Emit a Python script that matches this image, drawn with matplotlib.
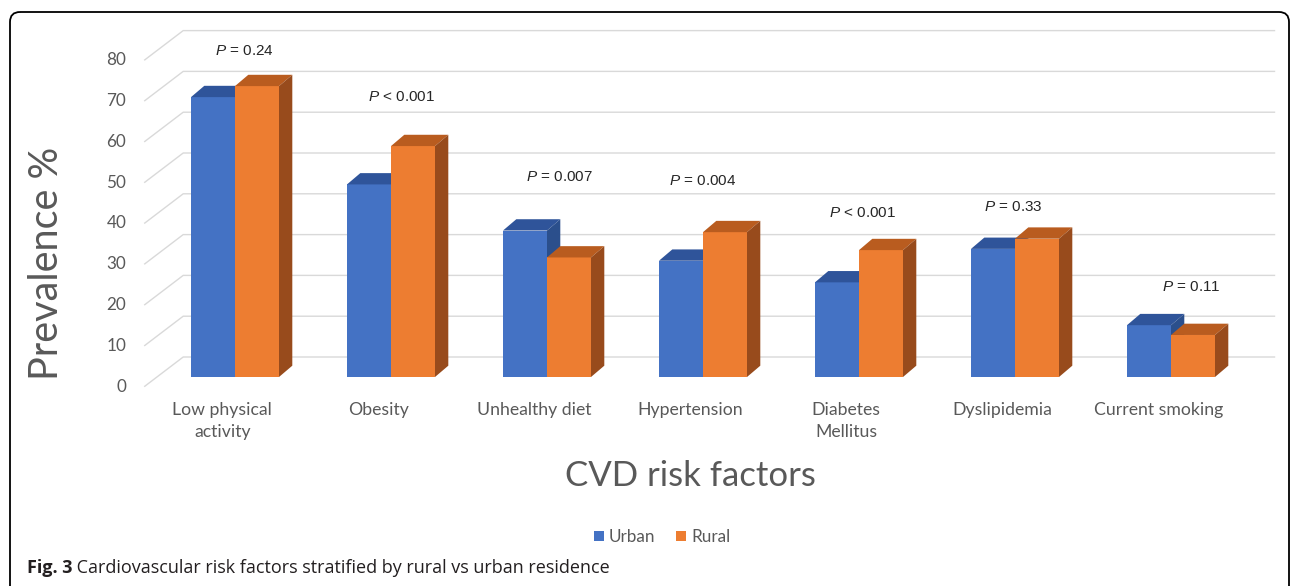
import matplotlib
matplotlib.use("Agg")
import matplotlib.pyplot as plt
from matplotlib.patches import Polygon, Patch, FancyBboxPatch

plt.rcParams["font.family"] = ["Lato", "DejaVu Sans"]
plt.rcParams["mathtext.fontset"] = "custom"
plt.rcParams["mathtext.rm"] = "Liberation Sans"
plt.rcParams["mathtext.it"] = "Liberation Sans:italic"

# data
categories = ["Low physical\nactivity", "Obesity", "Unhealthy diet", "Hypertension",
              "Diabetes\nMellitus", "Dyslipidemia", "Current smoking"]
urban = [68.6, 47.2, 35.9, 28.5, 23.2, 31.4, 12.7]
rural = [71.3, 56.6, 29.3, 35.5, 31.1, 33.9, 10.3]
p_values = ["$P$ = 0.24", "$P$ < 0.001", "$P$ = 0.007", "$P$ = 0.004",
            "$P$ < 0.001", "$P$ = 0.33", "$P$ = 0.11"]
yticks = [0, 10, 20, 30, 40, 50, 60, 70, 80]

# layout (p label positions: x offset from group centre, height in %)
p_dx = [0.06, 0.07, 0.08, 0.0, 0.02, -0.01, 0.13]
p_y = [80.0, 68.6, 49.0, 48.0, 40.3, 41.6, 22.0]

blue, blue_top, blue_side = "#4472C4", "#2F549A", "#2B4F8C"
orange, orange_top, orange_side = "#ED7D31", "#B95C1F", "#984B1C"
grey_txt = "#595959"

W, H = 1292, 586
PX_CAT, PX_PCT = 156.0, 4.08     # pixels per category / per percent
X0, Y0 = 157.0, 377.0            # pixel of x=-0.5 / y=0 (bar plane)
xlim = (-0.8, 6.75)
ylim = (-3, 88)

# oblique depth offsets (data units)
fdx, fdy = -12.8 / PX_CAT, -9.7 / PX_PCT      # front edge
bdx, bdy = 26.2 / PX_CAT, 20.0 / PX_PCT       # back wall
ddx, ddy = 13.3 / PX_CAT, 11.3 / PX_PCT       # bar depth

fig = plt.figure(figsize=(W / 100, H / 100), dpi=100)

# background overlay in pixel coords
bg = fig.add_axes([0, 0, 1, 1], zorder=0)
bg.set_xlim(0, W)
bg.set_ylim(H, 0)
bg.axis("off")
bg.add_patch(FancyBboxPatch((10, 12), 1279, 700, boxstyle="round,pad=0,rounding_size=10",
                            fc="none", ec="black", lw=1.3, clip_on=False))

left_px = X0 + (xlim[0] + 0.5) * PX_CAT
bottom_px = Y0 - ylim[0] * PX_PCT
ax = fig.add_axes([left_px / W, (H - bottom_px) / H,
                   (xlim[1] - xlim[0]) * PX_CAT / W, (ylim[1] - ylim[0]) * PX_PCT / H],
                  zorder=1)
ax.set_xlim(*xlim)
ax.set_ylim(*ylim)
ax.axis("off")
ax.patch.set_alpha(0)

n = len(categories)
# gridlines: side wall + back wall
for v in yticks:
    xs = [-0.5 + fdx, -0.5 + bdx, n - 0.5 + bdx]
    ys = [v + fdy, v + bdy, v + bdy]
    ax.plot(xs, ys, color="#D9D9D9", lw=1.0, zorder=1, solid_capstyle="butt")
    ax.text(-0.5 + fdx - 18 / PX_CAT, v + fdy, str(v), ha="right", va="center",
            fontsize=12.3, color=grey_txt)

w = 44 / PX_CAT
x = list(range(n))
b1 = ax.bar([i - w / 2 for i in x], urban, width=w, color=blue, zorder=3, lw=0)
b2 = ax.bar([i + w / 2 for i in x], rural, width=w, color=orange, zorder=4, lw=0)


def add_depth(bars, top_c, side_c, z):
    for b in bars:
        x0, h, bw = b.get_x(), b.get_height(), b.get_width()
        x1 = x0 + bw
        top = [(x0, h), (x1, h), (x1 + ddx, h + ddy), (x0 + ddx, h + ddy)]
        side = [(x1, 0), (x1 + ddx, ddy), (x1 + ddx, h + ddy), (x1, h)]
        ax.add_patch(Polygon(top, closed=True, fc=top_c, ec="none", zorder=z))
        ax.add_patch(Polygon(side, closed=True, fc=side_c, ec="none", zorder=z))


add_depth(b1, blue_top, blue_side, 3)
add_depth(b2, orange_top, orange_side, 4)

# p-values
for i in x:
    ax.text(i + p_dx[i], p_y[i], p_values[i], ha="center", va="center",
            fontsize=11, color="#262626", family="Liberation Sans", zorder=6)

# category labels
for i in x:
    ax.text(i + fdx, fdy - 15 / PX_PCT, categories[i], ha="center", va="top",
            fontsize=12.7, color=grey_txt, linespacing=1.5)

# axis titles
bg.text(47, 263, "Prevalence %", rotation=90, ha="center", va="center",
        fontsize=28.5, color=grey_txt)
bg.text(690, 476, "CVD risk factors", ha="center", va="center",
        fontsize=25, color=grey_txt)

handles = [Patch(fc=blue, ec="none", label="Urban"), Patch(fc=orange, ec="none", label="Rural")]
bg.legend(handles=handles, loc="center", bbox_to_anchor=(662, 537),
          bbox_transform=bg.transData, ncol=2, frameon=False, fontsize=12.3,
          handlelength=0.6, handleheight=0.6, handletextpad=0.3, columnspacing=1.2,
          labelcolor=grey_txt)

# caption
t1 = bg.text(27, 573, "Fig. 3", fontweight="bold", fontsize=13, color="#231F20",
             ha="left", va="baseline", family="Open Sans")
bg.annotate(" Cardiovascular risk factors stratified by rural vs urban residence",
            xy=(1, 0), xycoords=t1, ha="left", va="bottom", fontsize=13,
            color="#231F20", family="Open Sans")

fig.savefig("out.png", dpi=100)
